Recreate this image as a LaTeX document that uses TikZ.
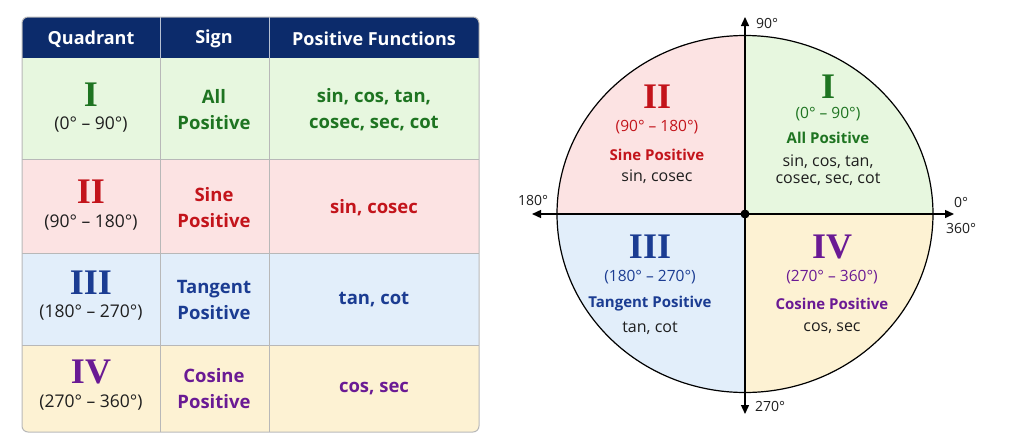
\documentclass[tikz,border=0pt]{standalone}
\usepackage{fontspec}
\setmainfont{Open Sans}
\newfontfamily\numfont{Liberation Serif}
\usetikzlibrary{arrows.meta}
\definecolor{navy}{HTML}{0C2B6B}
\definecolor{gridc}{HTML}{B8B8B8}
\definecolor{fI}{HTML}{E7F7DF}
\definecolor{fII}{HTML}{FCE3E3}
\definecolor{fIII}{HTML}{E2EEFA}
\definecolor{fIV}{HTML}{FDF2D3}
\definecolor{tI}{HTML}{1E7421}
\definecolor{tII}{HTML}{C3141B}
\definecolor{tIII}{HTML}{1B3C92}
\definecolor{tIV}{HTML}{6A1A94}
\definecolor{txt}{HTML}{1E1E1E}
\begin{document}
\begin{tikzpicture}[x=1pt,y=-1pt,
  hdr/.style={text=white,font=\bfseries\fontsize{18}{20}\selectfont},
  roman/.style={font=\numfont\bfseries\fontsize{36}{36}\selectfont,inner sep=0pt},
  rng/.style={text=txt,font=\fontsize{17.5}{20}\selectfont,inner sep=0pt},
  cell/.style={align=center,font=\bfseries\fontsize{18.5}{26}\selectfont,inner sep=0pt},
  cromannum/.style={font=\numfont\bfseries\fontsize{36}{36}\selectfont,inner sep=0pt},
  crng/.style={font=\fontsize{15.5}{18}\selectfont,inner sep=0pt},
  csign/.style={font=\bfseries\fontsize{15}{18}\selectfont,inner sep=0pt},
  cfun/.style={text=txt,align=center,font=\fontsize{16}{17.5}\selectfont,inner sep=0pt},
  deg/.style={text=txt,font=\fontsize{14}{16}\selectfont,inner sep=0pt},
  axis/.style={line width=1.4pt,-{Triangle[length=9pt,width=8pt]}}]
\useasboundingbox (0,0) rectangle (1024,439);
% ---------- table ----------
\begin{scope}
\clip[rounded corners=6pt] (22,17) rectangle (479,432);
\fill[navy] (22,17) rectangle (479,58);
\fill[fI] (22,58) rectangle (479,159);
\fill[fII] (22,159) rectangle (479,253);
\fill[fIII] (22,253) rectangle (479,345);
\fill[fIV] (22,345) rectangle (479,432);
\draw[gridc,line width=1pt] (22,159) -- (479,159) (22,253) -- (479,253) (22,345) -- (479,345);
\draw[gridc,line width=1pt] (160,58) -- (160,432) (269,58) -- (269,432);
\draw[white!70!navy,line width=0.8pt] (160,17) -- (160,58) (269,17) -- (269,58);
\end{scope}
\draw[gridc,line width=1pt,rounded corners=6pt] (22,17) rectangle (479,432);
\node[hdr] (h1) at (91,39) {Quadrant};
\node[hdr] (h2) at (214,39) {Sign};
\node[hdr] (h3) at (374,39) {Positive Functions};
% row I
\node[roman,text=tI] (r1a) at (91,95) {I};
\node[rng] (r1b) at (91,125) {(0° – 90°)};
\node[cell,text=tI] (r1c) at (214,110) {All\\Positive};
\node[cell,text=tI] (r1d) at (374,110) {sin, cos, tan,\\cosec, sec, cot};
% row II
\node[roman,text=tII] (r2a) at (91,192) {II};
\node[rng] (r2b) at (91,223) {(90° – 180°)};
\node[cell,text=tII] (r2c) at (214,208) {Sine\\Positive};
\node[cell,text=tII] (r2d) at (374,208) {sin, cosec};
% row III
\node[roman,text=tIII] (r3a) at (91,283) {III};
\node[rng] (r3b) at (91,313) {(180° – 270°)};
\node[cell,text=tIII] (r3c) at (214,300) {Tangent\\Positive};
\node[cell,text=tIII] (r3d) at (374,300) {tan, cot};
% row IV
\node[roman,text=tIV] (r4a) at (91,372) {IV};
\node[rng] (r4b) at (91,403) {(270° – 360°)};
\node[cell,text=tIV] (r4c) at (214,389) {Cosine\\Positive};
\node[cell,text=tIV] (r4d) at (374,389) {cos, sec};
% ---------- circle ----------
\coordinate (O) at (745,214);
\fill[fI] (O) -- (933,214) arc[start angle=0,end angle=-90,x radius=188,y radius=178.5] -- cycle;
\fill[fII] (O) -- (745,35.5) arc[start angle=-90,end angle=-180,x radius=188,y radius=178.5] -- cycle;
\fill[fIII] (O) -- (557,214) arc[start angle=180,end angle=90,x radius=188,y radius=178.5] -- cycle;
\fill[fIV] (O) -- (745,392.5) arc[start angle=90,end angle=0,x radius=188,y radius=178.5] -- cycle;
\draw[line width=1.2pt] (O) ellipse[x radius=188,y radius=178.5];
\coordinate (xr) at (954,214);
\coordinate (xl) at (532,214);
\coordinate (yt) at (745,17);
\coordinate (yb) at (745,414);
\draw[axis] (O) -- (xr);
\draw[axis] (O) -- (xl);
\draw[axis] (O) -- (yt);
\draw[axis] (O) -- (yb);
\fill (O) circle[radius=4.5];
\node[deg] (d90) at (767,23) {90°};
\node[deg] (d180) at (533,200) {180°};
\node[deg] (d0) at (961,202) {0°};
\node[deg] (d360) at (961,228) {360°};
\node[deg] (d270) at (770,406) {270°};
% quadrant II
\node[cromannum,text=tII] (cII) at (657,97) {II};
\node[crng,text=tII] (cIIr) at (657,127) {(90° – 180°)};
\node[csign,text=tII] (cIIs) at (657,155) {Sine Positive};
\node[cfun] (cIIf) at (657,177) {sin, cosec};
% quadrant I
\node[cromannum,text=tI] (cI) at (828,87) {I};
\node[crng,text=tI] (cIr) at (828,114) {(0° – 90°)};
\node[csign,text=tI] (cIs) at (828,138) {All Positive};
\node[cfun] (cIf) at (828,170) {sin, cos, tan,\\cosec, sec, cot};
% quadrant III
\node[cromannum,text=tIII] (cIII) at (650,247) {III};
\node[crng,text=tIII] (cIIIr) at (650,277) {(180° – 270°)};
\node[csign,text=tIII] (cIIIs) at (650,304) {Tangent Positive};
\node[cfun] (cIIIf) at (650,328) {tan, cot};
% quadrant IV
\node[cromannum,text=tIV] (cIV) at (832,247) {IV};
\node[crng,text=tIV] (cIVr) at (832,277) {(270° – 360°)};
\node[csign,text=tIV] (cIVs) at (832,304) {Cosine Positive};
\node[cfun] (cIVf) at (832,328) {cos, sec};
\end{tikzpicture}
\end{document}
